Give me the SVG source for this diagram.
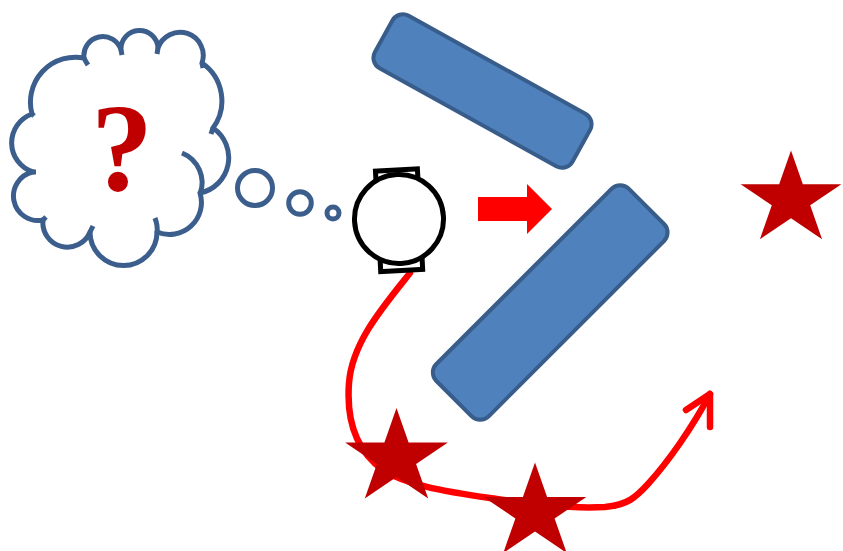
<svg xmlns="http://www.w3.org/2000/svg" xmlns:xlink="http://www.w3.org/1999/xlink" width="843" height="551" viewBox="0 0 843 551">
<style>
.bub{fill:#fff;stroke:#3B5E8C;stroke-width:5;stroke-linecap:round;stroke-linejoin:round}
.tail{fill:none;stroke:#3B5E8C;stroke-width:5;stroke-linecap:butt}
.wall{fill:#4F81BD;stroke:#385D8A;stroke-width:4}
.robot{fill:#fff;stroke:#000;stroke-width:5}
.path{fill:none;stroke:#FF0000;stroke-width:6.5;stroke-linecap:round;stroke-linejoin:round}
.star{fill:#C00000}
</style>
<defs>
<polygon id="star" points="0,-50 12.1,-15.45 51.4,-15.45 19.6,5.9 31.7,40.45 0,19.1 -31.7,40.45 -19.6,5.9 -51.4,-15.45 -12.1,-15.45"/>
</defs>
<rect width="843" height="551" fill="#fff"/>
<g id="cloud">
<path class="bub" d="M32,114 A45,45 0 0,1 84,58 A19,19 0 0,1 121,50 A18.5,18.5 0 1,1 158,48 A23,23 0 1,1 202,63 A46,46 0 0,1 213,128 A36,36 0 0,1 200,193 A32,32 0 0,1 157,232 A33.5,33.5 0 0,1 90,232 A24.5,24.5 0 0,1 43,220 A24.5,24.5 0 0,1 33,172 A30.6,30.6 0 0,1 32,114 Z"/>
<path class="tail" d="M182,153 A32,32 0 0,1 200,194"/>
<path class="tail" d="M155,218 Q158,226 157,233"/>
<path class="tail" d="M84,58 Q86,62 88,65"/>
<path class="tail" d="M121,50 L122,55"/>
<path class="tail" d="M158,48 L157,54"/>
<path class="tail" d="M202,63 L203,68"/>
<path class="tail" d="M213,128 L211,134"/>
<path class="tail" d="M90,232 Q92,228 93,226"/>
<path class="tail" d="M43,220 L46,217"/>
<path class="tail" d="M33,172 L36,172"/>
<path class="tail" d="M32,114 L34,116"/>
<text x="122" y="190" text-anchor="middle" font-family="Liberation Serif, serif" font-weight="bold" font-size="124" fill="#C00000">?</text>
</g>
<g id="thought-bubbles">
<circle class="bub" cx="255" cy="188" r="17.5"/>
<circle class="bub" cx="300" cy="203" r="11.3"/>
<circle class="bub" cx="333" cy="213" r="6"/>
</g>
<g id="wall-top">
<rect class="wall" x="369.5" y="61" width="226" height="60" rx="12" transform="rotate(29 482.5 91)"/>
</g>
<g id="wall-bottom">
<rect class="wall" x="414.2" y="265.5" width="272" height="74" rx="12" transform="rotate(-45 550.2 302.5)"/>
</g>
<g id="connectors">
<path class="path" d="M410,273 C382,308 352,343 349,383 C346,423 358,452 383,470 C405,484 440,491 490,498 C525,503 565,509 605,507 C628,505 636,497 648,484 C668,462 692,428 710,394"/>
<polyline class="path" points="686,410 710,394 710,427"/>
</g>
<g id="move-arrow">
<polygon points="478,197 527,197 527,184 552,209 527,234 527,221 478,221" fill="#FF0000"/>
</g>
<g id="robot" transform="rotate(-3 399 219)">
<rect class="robot" x="378" y="170" width="42" height="14"/>
<rect class="robot" x="378" y="256.5" width="42" height="14"/>
<circle class="robot" cx="399" cy="219" r="44.5"/>
</g>
<g id="star-1"><use xlink:href="#star" class="star" transform="translate(396.5 458)"/></g>
<g id="star-2"><use xlink:href="#star" class="star" transform="translate(535 512.5)"/></g>
<g id="star-3"><use xlink:href="#star" class="star" transform="translate(791 199.5) scale(0.98)"/></g>
</svg>
